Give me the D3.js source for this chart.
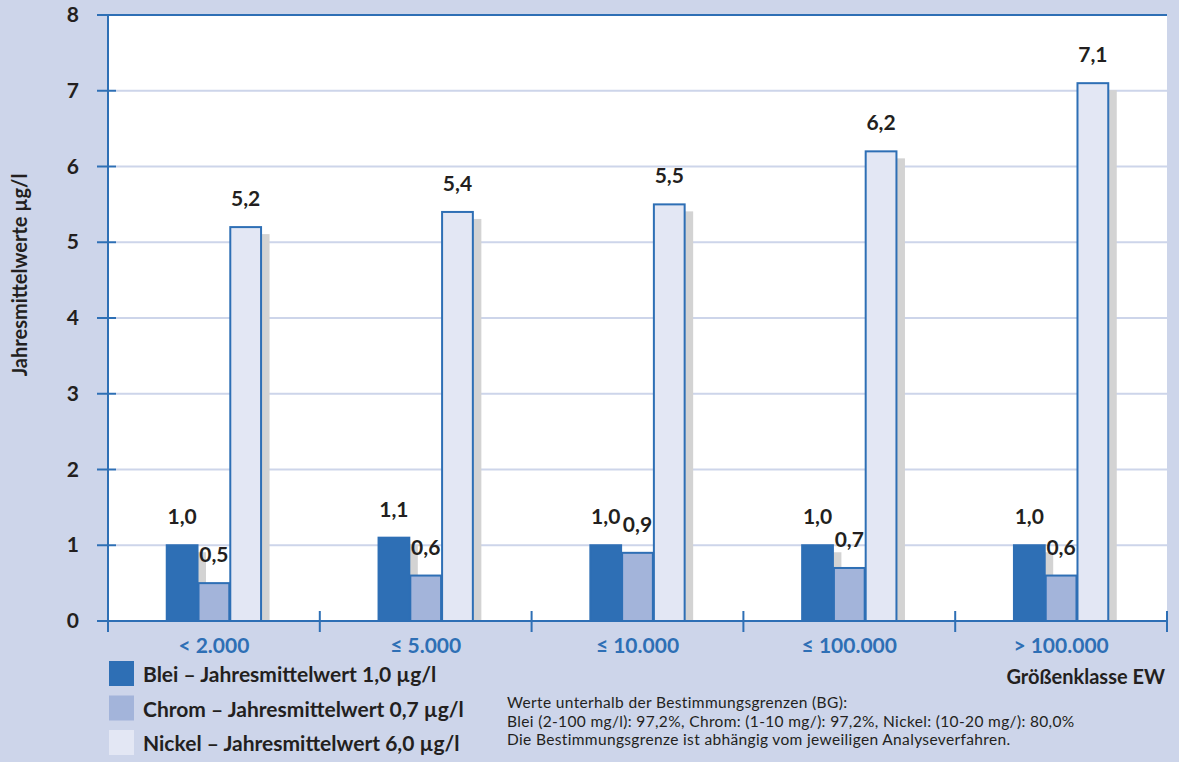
<!DOCTYPE html>
<html lang="de">
<head>
  <meta charset="utf-8">
  <title>Jahresmittelwerte</title>
  <script src="https://d3js.org/d3.v7.min.js"></script>
  <style>
    body { margin: 0; background: #cdd5ea; }
    svg { display: block; font-family: Lato, "Open Sans", sans-serif; }
  </style>
</head>
<body>
<svg width="1179" height="762"></svg>
<script>
  // Data
  const categories = ["< 2.000", "≤ 5.000", "≤ 10.000", "≤ 100.000", "> 100.000"];
  const series = ["Blei", "Chrom", "Nickel"];
  const blei = [1.0, 1.1, 1.0, 1.0, 1.0];
  const chrom = [0.5, 0.6, 0.9, 0.7, 0.6];
  const nickel = [5.2, 5.4, 5.5, 6.2, 7.1];
  const yTicks = [0, 1, 2, 3, 4, 5, 6, 7, 8];
  const legendLabels = [
    "Blei – Jahresmittelwert 1,0 µg/l",
    "Chrom – Jahresmittelwert 0,7 µg/l",
    "Nickel – Jahresmittelwert 6,0 µg/l"
  ];
  const notes = [
    "Werte unterhalb der Bestimmungsgrenzen (BG):",
    "Blei (2-100 mg/l): 97,2%, Chrom: (1-10 mg/): 97,2%, Nickel: (10-20 mg/): 80,0%",
    "Die Bestimmungsgrenze ist abhängig vom jeweiligen Analyseverfahren."
  ];

  const values = { Blei: blei, Chrom: chrom, Nickel: nickel };
  const fills = { Blei: "#2e6fb5", Chrom: "#a3b4da", Nickel: "#e3e7f4" };
  const blue = "#2e6fb5";
  const ink = "#231f20";

  const svg = d3.select("svg");
  const mLeft = 108, mRight = 1167, mTop = 15, mBottom = 621;

  const x = d3.scaleBand().domain(categories).range([mLeft, mRight]);
  const y = d3.scaleLinear().domain([0, 8]).range([mBottom, mTop]);
  const barW = x.bandwidth() * 0.15;
  const xs = d3.scaleBand().domain(series).range([0, barW * 3]);

  // plot area
  svg.append("rect")
    .attr("x", mLeft).attr("y", mTop)
    .attr("width", mRight - mLeft).attr("height", mBottom - mTop)
    .attr("fill", "#fff");

  // gridlines
  svg.append("g").selectAll("line")
    .data(yTicks.filter(d => d > 0 && d < 8))
    .join("line")
    .attr("x1", mLeft + 8).attr("x2", mRight)
    .attr("y1", d => y(d)).attr("y2", d => y(d))
    .attr("stroke", "#cdd5ea").attr("stroke-width", 2);

  // bars
  const groups = svg.append("g").selectAll("g")
    .data(categories)
    .join("g")
    .attr("transform", d => `translate(${x(d) + (x.bandwidth() - barW * 3) / 2},0)`);

  series.forEach(s => {
    groups.append("rect") // shadow
      .attr("x", xs(s) + 8)
      .attr("y", (d, i) => y(values[s][i]) + 7)
      .attr("width", barW)
      .attr("height", (d, i) => Math.max(0, mBottom - y(values[s][i]) - 7))
      .attr("fill", "#d3d3d3");
    groups.append("rect")
      .attr("x", xs(s) + 0.5)
      .attr("y", (d, i) => y(values[s][i]))
      .attr("width", barW - 1)
      .attr("height", (d, i) => mBottom - y(values[s][i]))
      .attr("fill", fills[s])
      .attr("stroke", blue)
      .attr("stroke-width", 2);
  });

  series.forEach(s => {
    groups.append("text")
      .attr("x", xs(s) + barW / 2)
      .attr("y", (d, i) => y(values[s][i]) - 21)
      .attr("text-anchor", "middle")
      .attr("font-size", 21).attr("font-weight", "bold")
      .attr("fill", ink)
      .text((d, i) => d3.format(".1f")(values[s][i]).replace(".", ","));
  });

  // axes
  svg.append("line")
    .attr("x1", mLeft).attr("x2", mLeft)
    .attr("y1", mTop).attr("y2", mBottom + 11)
    .attr("stroke", blue).attr("stroke-width", 2);
  svg.append("line")
    .attr("x1", mLeft - 11).attr("x2", mRight)
    .attr("y1", mBottom).attr("y2", mBottom)
    .attr("stroke", blue).attr("stroke-width", 2);
  svg.append("line")
    .attr("x1", mLeft - 11).attr("x2", mRight)
    .attr("y1", mTop).attr("y2", mTop)
    .attr("stroke", blue).attr("stroke-width", 2);

  // y ticks
  svg.append("g").selectAll("line")
    .data(yTicks)
    .join("line")
    .attr("x1", mLeft - 11).attr("x2", mLeft + 8)
    .attr("y1", d => y(d)).attr("y2", d => y(d))
    .attr("stroke", blue).attr("stroke-width", 2);
  svg.append("g").selectAll("text")
    .data(yTicks)
    .join("text")
    .attr("x", 79).attr("y", d => y(d) + 7)
    .attr("text-anchor", "end")
    .attr("font-size", 21).attr("font-weight", "bold")
    .attr("fill", ink)
    .text(d => d);

  // x ticks
  const bounds = categories.map(c => x(c)).concat([mRight]);
  svg.append("g").selectAll("line")
    .data(bounds)
    .join("line")
    .attr("x1", d => d).attr("x2", d => d)
    .attr("y1", mBottom - 10).attr("y2", mBottom + 11)
    .attr("stroke", blue).attr("stroke-width", 2);
  svg.append("g").selectAll("text")
    .data(categories)
    .join("text")
    .attr("x", d => x(d) + x.bandwidth() / 2)
    .attr("y", 653)
    .attr("text-anchor", "middle")
    .attr("font-size", 21).attr("font-weight", "bold")
    .attr("fill", blue)
    .text(d => d);

  // axis titles
  svg.append("text")
    .attr("transform", "translate(27,275) rotate(-90)")
    .attr("text-anchor", "middle")
    .attr("font-size", 20).attr("font-weight", "bold")
    .attr("fill", ink)
    .text("Jahresmittelwerte µg/l");
  svg.append("text")
    .attr("x", 1165).attr("y", 684)
    .attr("text-anchor", "end")
    .attr("font-size", 20).attr("font-weight", "bold")
    .attr("fill", ink)
    .text("Größenklasse EW");

  // legend
  const legend = svg.append("g").selectAll("g")
    .data(series)
    .join("g")
    .attr("transform", (d, i) => `translate(109,${661 + i * 34.5})`);
  legend.append("rect")
    .attr("width", 25).attr("height", 25)
    .attr("fill", d => fills[d]);
  legend.append("text")
    .attr("x", 34).attr("y", 21)
    .attr("font-size", 21).attr("font-weight", "bold")
    .attr("fill", ink)
    .text((d, i) => legendLabels[i]);

  // notes
  svg.append("g").selectAll("text")
    .data(notes)
    .join("text")
    .attr("x", 507).attr("y", (d, i) => 708 + i * 18.5)
    .attr("font-size", 15.5)
    .attr("letter-spacing", 0.35)
    .attr("fill", ink)
    .text(d => d);
</script>
</body>
</html>
